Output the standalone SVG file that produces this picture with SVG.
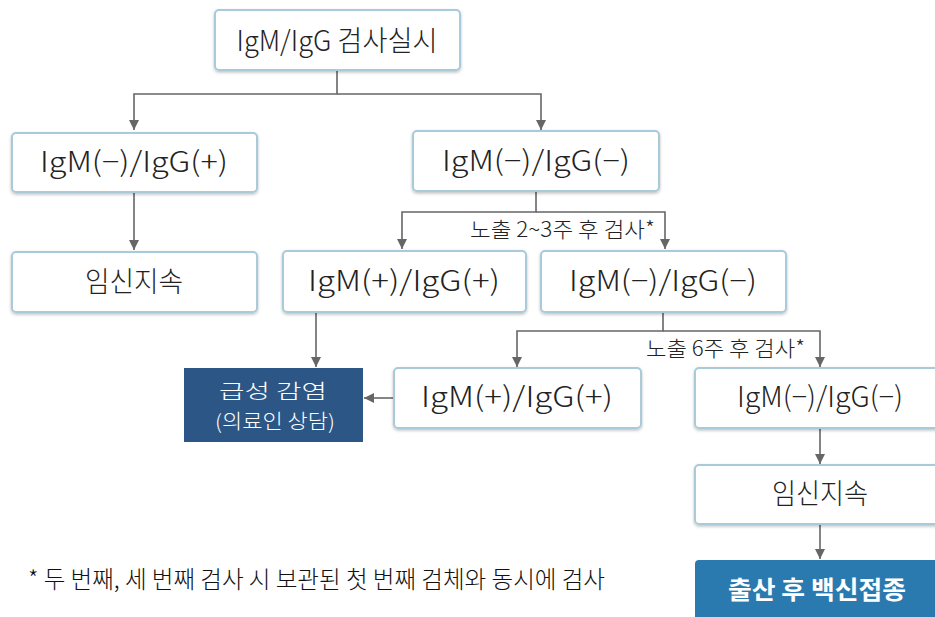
<svg xmlns="http://www.w3.org/2000/svg" width="935" height="617" viewBox="0 0 935 617">
  <defs>
    <marker id="arr" viewBox="0 0 10 10" refX="10" refY="5" markerWidth="10" markerHeight="10" markerUnits="userSpaceOnUse" orient="auto">
      <path d="M0,0 L10,5 L0,10 z" fill="#666"/>
    </marker>
    <filter id="sh" x="-10%" y="-10%" width="120%" height="130%">
      <feDropShadow dx="0" dy="1.5" stdDeviation="1.5" flood-color="#000" flood-opacity="0.25"/>
    </filter>
  </defs>
  <style>
    text { font-family: "Noto Sans CJK KR", "Noto Sans", sans-serif; }
    .box { fill: #fff; stroke: #a8cad9; stroke-width: 2; filter: url(#sh); }
    .t { font-size: 28px; font-weight: 300; fill: #222; text-anchor: middle; }
    .dark { fill: #2c5685; }
    .blue { fill: #2a7ab0; }
    .wt { fill: #fff; text-anchor: middle; font-weight: 300; }
    .wb { fill: #fff; text-anchor: middle; font-weight: 700; }
    .lbl { font-size: 21px; font-weight: 300; fill: #222; }
    .note { font-size: 24px; font-weight: 300; fill: #111; }
    .ln { fill: none; stroke: #666; stroke-width: 1.6; }
  </style>
  <rect width="935" height="617" fill="#fff"/>

  <g id="connectors">
    <path class="ln" d="M337,70 V94 H134 V130" marker-end="url(#arr)"/>
    <path class="ln" d="M337,94 H541 V130" marker-end="url(#arr)"/>
    <path class="ln" d="M134,191 V250" marker-end="url(#arr)"/>
    <path class="ln" d="M536,191 V212 H402 V249" marker-end="url(#arr)"/>
    <path class="ln" d="M536,212 H665 V249" marker-end="url(#arr)"/>
    <path class="ln" d="M663,312 V331 H517 V367" marker-end="url(#arr)"/>
    <path class="ln" d="M663,331 H820 V367" marker-end="url(#arr)"/>
    <path class="ln" d="M316,312 V367" marker-end="url(#arr)"/>
    <path class="ln" d="M394,398 H364" marker-end="url(#arr)"/>
    <path class="ln" d="M820,428 V464" marker-end="url(#arr)"/>
    <path class="ln" d="M820,524 V559" marker-end="url(#arr)"/>
    <text class="lbl" x="470" y="237" textLength="185" lengthAdjust="spacingAndGlyphs">노출 2~3주 후 검사*</text>
    <text class="lbl" x="646" y="356" textLength="159" lengthAdjust="spacingAndGlyphs">노출 6주 후 검사*</text>
  </g>

  <g id="start">
    <rect class="box" x="215" y="10" width="245" height="60" rx="4"/>
    <text class="t" x="337" y="51" textLength="201" lengthAdjust="spacingAndGlyphs">IgM/IgG 검사실시</text>
  </g>
  <g id="neg-pos">
    <rect class="box" x="12" y="133" width="245" height="59" rx="4"/>
    <text class="t" x="134" y="172" textLength="188" lengthAdjust="spacingAndGlyphs">IgM(−)/IgG(+)</text>
  </g>
  <g id="neg-neg-1">
    <rect class="box" x="413" y="131" width="246" height="60" rx="4"/>
    <text class="t" x="536" y="171" textLength="188" lengthAdjust="spacingAndGlyphs">IgM(−)/IgG(−)</text>
  </g>
  <g id="continue-1">
    <rect class="box" x="12" y="252" width="245" height="60" rx="4"/>
    <text class="t" x="134" y="292" textLength="98" lengthAdjust="spacingAndGlyphs">임신지속</text>
  </g>
  <g id="pos-pos-1">
    <rect class="box" x="283" y="251" width="243" height="61" rx="4"/>
    <text class="t" x="404" y="291" textLength="192" lengthAdjust="spacingAndGlyphs">IgM(+)/IgG(+)</text>
  </g>
  <g id="neg-neg-2">
    <rect class="box" x="541" y="251" width="245" height="61" rx="4"/>
    <text class="t" x="663" y="291" textLength="188" lengthAdjust="spacingAndGlyphs">IgM(−)/IgG(−)</text>
  </g>
  <g id="acute">
    <rect class="dark" x="184" y="368" width="179" height="74"/>
    <text class="wt" x="273" y="399" font-size="20" textLength="108" lengthAdjust="spacingAndGlyphs">급성 감염</text>
    <text class="wt" x="275" y="429" font-size="20" textLength="120" lengthAdjust="spacingAndGlyphs">(의료인 상담)</text>
  </g>
  <g id="pos-pos-2">
    <rect class="box" x="394" y="368" width="247" height="60" rx="4"/>
    <text class="t" x="517" y="407" textLength="192" lengthAdjust="spacingAndGlyphs">IgM(+)/IgG(+)</text>
  </g>
  <g id="neg-neg-3">
    <rect class="box" x="695" y="368" width="250" height="60" rx="4"/>
    <text class="t" x="820" y="407" textLength="166" lengthAdjust="spacingAndGlyphs">IgM(−)/IgG(−)</text>
  </g>
  <g id="continue-2">
    <rect class="box" x="695" y="465" width="250" height="59" rx="4"/>
    <text class="t" x="820" y="504" textLength="96" lengthAdjust="spacingAndGlyphs">임신지속</text>
  </g>
  <g id="vaccinate">
    <rect class="blue" x="695" y="560" width="250" height="70" rx="4"/>
    <text class="wb" x="817" y="599" font-size="25" textLength="178" lengthAdjust="spacingAndGlyphs">출산 후 백신접종</text>
  </g>

  <text class="note" x="28" y="588" textLength="577" lengthAdjust="spacingAndGlyphs">* 두 번째, 세 번째 검사 시 보관된 첫 번째 검체와 동시에 검사</text>
</svg>
